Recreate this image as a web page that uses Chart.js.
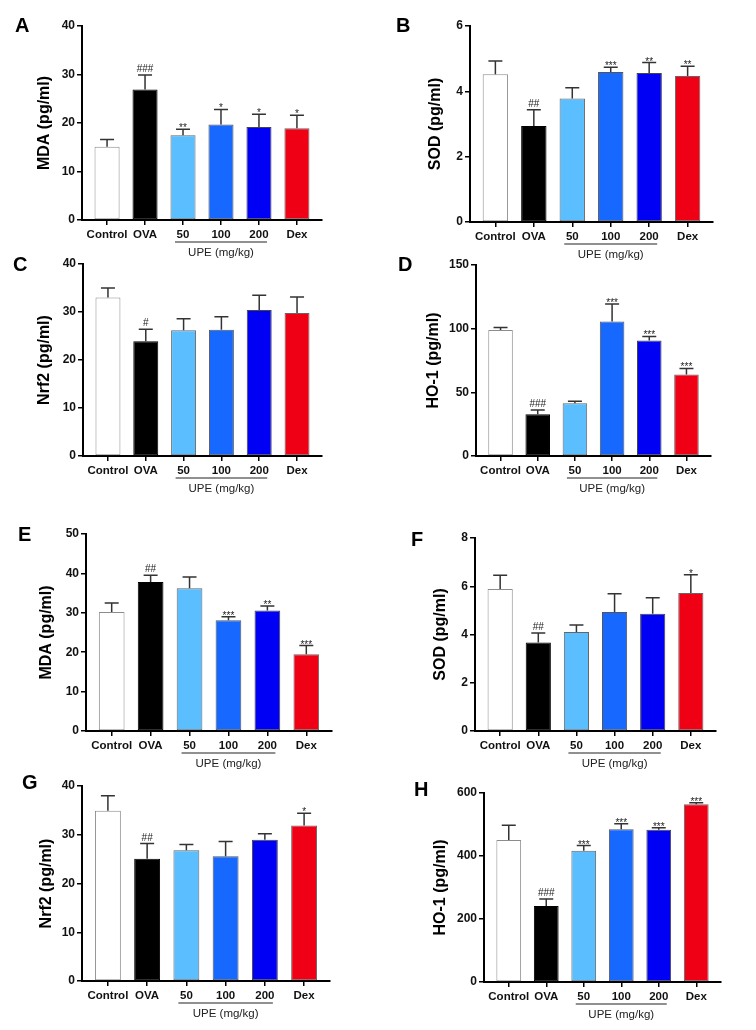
<!DOCTYPE html>
<html>
<head>
<meta charset="utf-8">
<script src="https://cdn.jsdelivr.net/npm/chart.js@4.4.1/dist/chart.umd.min.js"></script>
<style>
  html, body { margin: 0; padding: 0; background: #fff; }
  body { width: 756px; height: 1030px; position: relative; overflow: hidden; font-family: "Liberation Sans", Arial, sans-serif; }
  .panel { position: absolute; width: 378px; }
  .letter { position: absolute; font-weight: bold; font-size: 20px; line-height: 20px; color: #000; }
</style>
</head>
<body>
<script>
const groups = ['Control', 'OVA', '50', '100', '200', 'Dex'];

// first set of measurements (A-D)
const mdaA = [15.1, 26.9, 17.5, 19.7, 19.2, 18.9];
const mdaAErr = [1.5, 3.0, 1.2, 3.1, 2.6, 2.7];
const mdaASig = ['', '###', '**', '*', '*', '*'];

const sodB = [4.52, 2.94, 3.78, 4.59, 4.56, 4.47];
const sodBErr = [0.41, 0.50, 0.33, 0.15, 0.32, 0.30];
const sodBSig = ['', '##', '', '***', '**', '**'];

const nrf2C = [33.0, 23.9, 26.2, 26.3, 30.4, 29.8];
const nrf2CErr = [2.0, 2.5, 2.4, 2.7, 3.1, 3.3];
const nrf2CSig = ['', '#', '', '', '', ''];

const ho1D = [98.9, 32.7, 41.4, 105.7, 90.8, 64.1];
const ho1DErr = [2.1, 3.5, 1.6, 13.6, 3.1, 4.7];
const ho1DSig = ['', '###', '', '***', '***', '***'];

// second set (E-H)
const mdaE = [30.2, 37.8, 36.2, 28.1, 30.6, 19.5];
const mdaEErr = [2.3, 1.7, 2.9, 0.9, 1.1, 2.2];
const mdaESig = ['', '##', '', '***', '**', '***'];

const sodF = [5.89, 3.67, 4.10, 4.93, 4.86, 5.72];
const sodFErr = [0.57, 0.39, 0.29, 0.76, 0.66, 0.76];
const sodFSig = ['', '##', '', '', '', '*'];

const nrf2G = [34.9, 25.1, 26.8, 25.6, 29.0, 31.9];
const nrf2GErr = [3.1, 3.1, 1.2, 3.0, 1.2, 2.5];
const nrf2GSig = ['', '##', '', '', '', '*'];

const ho1H = [450.6, 241.4, 416.4, 485, 483, 564];
const ho1HErr = [47.4, 22.2, 16.9, 17, 7, 5];
const ho1HSig = ['', '###', '***', '***', '***', '***'];

const barColors = ['#ffffff', '#000000', '#5abeff', '#1668ff', '#0000f5', '#f00014'];
const edgeColors = ['#8c8c8c', '#000000', '#666666', '#555555', '#444444', '#666666'];

const X_MIN = -0.66, X_MAX = 5.66;

const panels = [
    { letter: 'A', lx: 15, ly: 18, title: 'MDA (pg/ml)', values: mdaA, err: mdaAErr, sig: mdaASig, max: 40, step: 10,
      left: 0, top: 0, height: 265, padTop: 26, axisW: 82, padRight: 56, titleX: 45 },
    { letter: 'B', lx: 396, ly: 18, title: 'SOD (pg/ml)', values: sodB, err: sodBErr, sig: sodBSig, max: 6, step: 2,
      left: 378, top: 0, height: 267, padTop: 26, axisW: 92, padRight: 43, titleX: 58 },
    { letter: 'C', lx: 13, ly: 257, title: 'Nrf2 (pg/ml)', values: nrf2C, err: nrf2CErr, sig: nrf2CSig, max: 40, step: 10,
      left: 0, top: 250, height: 251, padTop: 14, axisW: 83, padRight: 56, titleX: 45 },
    { letter: 'D', lx: 398, ly: 257, title: 'HO-1 (pg/ml)', values: ho1D, err: ho1DErr, sig: ho1DSig, max: 150, step: 50,
      left: 378, top: 250, height: 251, padTop: 15, axisW: 98, padRight: 45, titleX: 56 },
    { letter: 'E', lx: 18, ly: 527, title: 'MDA (pg/ml)', values: mdaE, err: mdaEErr, sig: mdaESig, max: 50, step: 10,
      left: 0, top: 500, height: 276, padTop: 34, axisW: 86, padRight: 46, titleX: 47 },
    { letter: 'F', lx: 411, ly: 532, title: 'SOD (pg/ml)', values: sodF, err: sodFErr, sig: sodFSig, max: 8, step: 2,
      left: 378, top: 500, height: 276, padTop: 38, axisW: 97, padRight: 40, titleX: 63 },
    { letter: 'G', lx: 22, ly: 775, title: 'Nrf2 (pg/ml)', values: nrf2G, err: nrf2GErr, sig: nrf2GSig, max: 40, step: 10,
      left: 0, top: 770, height: 256, padTop: 16, axisW: 82, padRight: 48, titleX: 47 },
    { letter: 'H', lx: 414, ly: 782, title: 'HO-1 (pg/ml)', values: ho1H, err: ho1HErr, sig: ho1HSig, max: 600, step: 200,
      left: 378, top: 770, height: 257, padTop: 23, axisW: 106, padRight: 35, titleX: 63 }
];

function makePanel(p) {
    const box = document.createElement('div');
    box.className = 'panel';
    box.style.left = p.left + 'px';
    box.style.top = p.top + 'px';
    box.style.height = p.height + 'px';
    const canvas = document.createElement('canvas');
    box.appendChild(canvas);
    document.body.appendChild(box);

    const tag = document.createElement('div');
    tag.className = 'letter';
    tag.textContent = p.letter;
    tag.style.left = p.lx + 'px';
    tag.style.top = (p.ly - 3) + 'px';
    document.body.appendChild(tag);

    // error bars, significance marks and the UPE bracket
    const extras = {
        id: 'extras' + p.letter,
        afterDatasetsDraw(chart) {
            const ctx = chart.ctx;
            const bars = chart.getDatasetMeta(0).data;
            const yScale = chart.scales.y;
            ctx.save();
            ctx.strokeStyle = '#333';
            ctx.lineWidth = 1.5;
            ctx.fillStyle = '#222';
            ctx.textAlign = 'center';
            ctx.textBaseline = 'alphabetic';
            ctx.font = '10px "Liberation Sans", Arial, sans-serif';
            bars.forEach((bar, i) => {
                const yTop = yScale.getPixelForValue(p.values[i] + p.err[i]);
                ctx.beginPath();
                ctx.moveTo(bar.x, bar.y);
                ctx.lineTo(bar.x, yTop);
                ctx.moveTo(bar.x - 7, yTop);
                ctx.lineTo(bar.x + 7, yTop);
                ctx.stroke();
                const mark = p.sig[i];
                if (mark) {
                    ctx.fillText(mark, bar.x, mark.includes('#') ? yTop - 3 : yTop + 2);
                }
            });

            const b2 = bars[2], b4 = bars[4];
            const lineY = chart.chartArea.bottom + 22;
            ctx.strokeStyle = '#222';
            ctx.lineWidth = 1.2;
            ctx.beginPath();
            ctx.moveTo(b2.x - 8, lineY);
            ctx.lineTo(b4.x + 8, lineY);
            ctx.stroke();
            ctx.font = '11.5px "Liberation Sans", Arial, sans-serif';
            ctx.textBaseline = 'middle';
            ctx.fillText('UPE (mg/kg)', (b2.x + b4.x) / 2, lineY + 11);
            ctx.restore();
        }
    };

    new Chart(canvas, {
        type: 'bar',
        data: {
            datasets: [{
                data: p.values.map((v, i) => ({ x: i, y: v })),
                backgroundColor: barColors,
                borderColor: edgeColors,
                borderWidth: 1,
                borderSkipped: false,
                barPercentage: 0.66,
                categoryPercentage: 1
            }]
        },
        options: {
            responsive: true,
            maintainAspectRatio: false,
            animation: false,
            events: [],
            plugins: {
                legend: { display: false },
                tooltip: { enabled: false }
            },
            layout: {
                padding: { top: p.padTop, right: p.padRight, left: 0, bottom: 0 }
            },
            scales: {
                x: {
                    type: 'linear',
                    offset: false,
                    bounds: 'data',
                    min: X_MIN,
                    max: X_MAX,
                    afterBuildTicks: s => {
                        s.ticks = groups.map((g, i) => ({ value: i }));
                        s.min = X_MIN;
                        s.max = X_MAX;
                    },
                    afterFit: s => { s.height = 45; },
                    ticks: {
                        callback: v => groups[v],
                        autoSkip: false,
                        maxRotation: 0,
                        padding: 3,
                        color: '#111',
                        font: { family: '"Liberation Sans", Arial, sans-serif', size: 11.5, weight: 'bold' }
                    },
                    grid: {
                        offset: false,
                        drawOnChartArea: false,
                        drawTicks: true,
                        tickLength: 5,
                        color: '#000',
                        lineWidth: 1.5
                    },
                    border: { display: true, color: '#000', width: 2 }
                },
                y: {
                    min: 0,
                    max: p.max,
                    afterFit: s => { s.width = p.axisW; },
                    ticks: {
                        stepSize: p.step,
                        padding: 2,
                        color: '#111',
                        font: { family: '"Liberation Sans", Arial, sans-serif', size: 12, weight: 'bold' }
                    },
                    grid: {
                        drawOnChartArea: false,
                        drawTicks: true,
                        tickLength: 5,
                        color: '#000',
                        lineWidth: 1.5
                    },
                    border: { display: true, color: '#000', width: 2 },
                    title: {
                        display: true,
                        text: p.title,
                        color: '#000',
                        padding: { top: p.titleX - 9.6, bottom: 0 },
                        font: { family: '"Liberation Sans", Arial, sans-serif', size: 16, weight: 'bold' }
                    }
                }
            }
        },
        plugins: [extras]
    });
}

panels.forEach(makePanel);
</script>
</body>
</html>
